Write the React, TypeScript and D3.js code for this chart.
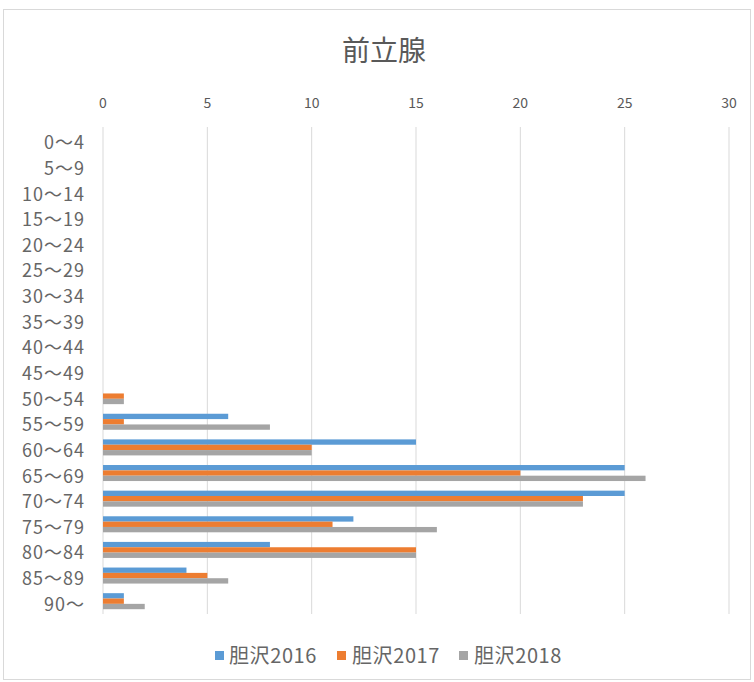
import React from "react";
import * as d3 from "d3";

const categories = ["0～4","5～9","10～14","15～19","20～24","25～29","30～34","35～39","40～44","45～49","50～54","55～59","60～64","65～69","70～74","75～79","80～84","85～89","90～"];
const seriesNames = ["胆沢2016","胆沢2017","胆沢2018"];
const s2016 = [0,0,0,0,0,0,0,0,0,0,0,6,15,25,25,12,8,4,1];
const s2017 = [0,0,0,0,0,0,0,0,0,0,1,1,10,20,23,11,15,5,1];
const s2018 = [0,0,0,0,0,0,0,0,0,0,1,8,10,26,23,16,15,6,2];
const xTicks = [0,5,10,15,20,25,30];
const colors = ["#5B9BD5","#ED7D31","#A5A5A5"];

const W = 754, H = 682;
const FONT = "'Noto Sans CJK JP', 'Noto Sans', sans-serif";

export default function App() {
  const x = d3.scaleLinear().domain([0, 30]).range([103, 729]);
  const y = d3.scaleBand<string>().domain(categories).range([127, 614]);
  const series = [s2016, s2017, s2018];
  const groupH = y.bandwidth() / 1.6;
  const barH = groupH / 3;
  const inner = d3.scaleBand<number>().domain([0,1,2]).range([0, groupH]);
  const legendItems = [
    { sq: 215, tx: 229 },
    { sq: 337, tx: 352 },
    { sq: 459, tx: 474 },
  ];
  return (
    <svg width={W} height={H} style={{ position: "absolute", left: 0, top: 0 }} fontFamily={FONT}>
      <rect x={0} y={0} width={W} height={H} fill="#fff" />
      <rect x={3.5} y={9.5} width={747} height={670} fill="#fff" stroke="#D9D9D9" />
      <text x={384} y={61} textAnchor="middle" fontSize={28} fill="#595959">前立腺</text>
      {xTicks.map((t) => (
        <g key={t}>
          <line x1={x(t)} x2={x(t)} y1={127} y2={614} stroke="#D9D9D9" />
          <text x={x(t)} y={108} textAnchor="middle" fontSize={14} fill="#595959">{t}</text>
        </g>
      ))}
      {categories.map((c) => (
        <text key={c} x={85} y={(y(c) ?? 0) + y.bandwidth() / 2 + 9.5} textAnchor="end" fontSize={18} letterSpacing={1} fill="#666666">{c}</text>
      ))}
      {series.map((vals, si) =>
        vals.map((v, i) => {
          if (v <= 0) return null;
          const c = categories[i];
          const top = (y(c) ?? 0) + (y.bandwidth() - groupH) / 2 + (inner(si) ?? 0);
          return <rect key={si + "-" + i} x={x(0)} y={top} width={x(v) - x(0)} height={barH} fill={colors[si]} />;
        })
      )}
      {seriesNames.map((n, i) => (
        <g key={n}>
          <rect x={legendItems[i].sq} y={651} width={9} height={9} fill={colors[i]} />
          <text x={legendItems[i].tx} y={663} fontSize={20} letterSpacing={0.6} fill="#666666">{n}</text>
        </g>
      ))}
    </svg>
  );
}
